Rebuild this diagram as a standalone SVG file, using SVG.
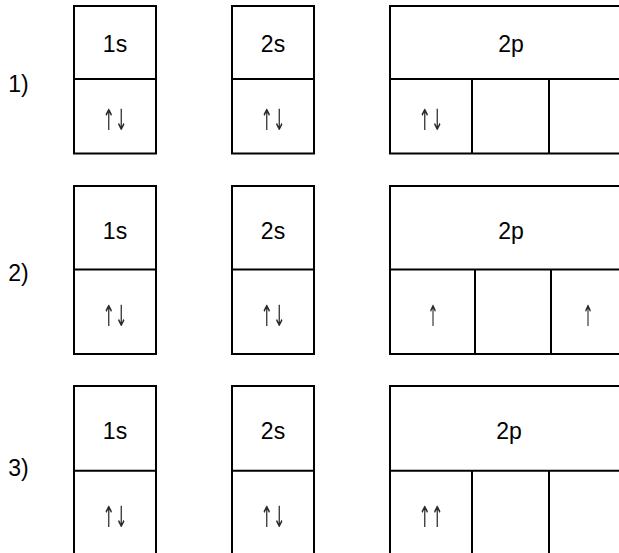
<svg xmlns="http://www.w3.org/2000/svg" width="619" height="553" viewBox="0 0 619 553">
<defs>
<filter id="gray" x="-20%" y="-20%" width="140%" height="140%"><feColorMatrix type="saturate" values="0"/></filter>
</defs>
<style>
.b{fill:none;stroke:#000;stroke-width:2}
.t{font-family:"Liberation Sans",Arial,sans-serif;font-size:23px;fill:#000;text-anchor:middle}
.a{font-family:"DejaVu Sans",sans-serif;font-size:29px;fill:#2a2a2a;text-anchor:middle}
.arr{filter:url(#gray)}
</style>
<rect width="619" height="553" fill="#fff"/>
<g id="row1">
  <text class="t" x="18.5" y="92">1)</text>
  <g id="r1-1s">
    <rect class="b" x="74" y="6" width="82" height="147.5"/>
    <line class="b" x1="74" y1="79" x2="156" y2="79"/>
    <text class="t" x="115" y="52">1s</text>
    <g class="arr"><text class="a" x="115" y="130" textLength="25" lengthAdjust="spacingAndGlyphs">↑↓</text></g>
  </g>
  <g id="r1-2s">
    <rect class="b" x="232" y="6" width="82" height="147.5"/>
    <line class="b" x1="232" y1="79" x2="314" y2="79"/>
    <text class="t" x="273" y="52">2s</text>
    <g class="arr"><text class="a" x="273" y="130" textLength="25" lengthAdjust="spacingAndGlyphs">↑↓</text></g>
  </g>
  <g id="r1-2p">
    <rect class="b" x="390" y="6" width="242" height="147.5"/>
    <line class="b" x1="390" y1="79" x2="632" y2="79"/>
    <line class="b" x1="472" y1="79" x2="472" y2="153.5"/>
    <line class="b" x1="549" y1="79" x2="549" y2="153.5"/>
    <text class="t" x="511" y="52">2p</text>
    <g class="arr"><text class="a" x="431" y="130" textLength="25" lengthAdjust="spacingAndGlyphs">↑↓</text></g>
  </g>
</g>
<g id="row2">
  <text class="t" x="18.5" y="281">2)</text>
  <g id="r2-1s">
    <rect class="b" x="74" y="186" width="82" height="168"/>
    <line class="b" x1="74" y1="269.5" x2="156" y2="269.5"/>
    <text class="t" x="115" y="239">1s</text>
    <g class="arr"><text class="a" x="115" y="326" textLength="25" lengthAdjust="spacingAndGlyphs">↑↓</text></g>
  </g>
  <g id="r2-2s">
    <rect class="b" x="232" y="186" width="82" height="168"/>
    <line class="b" x1="232" y1="269.5" x2="314" y2="269.5"/>
    <text class="t" x="273" y="239">2s</text>
    <g class="arr"><text class="a" x="273" y="326" textLength="25" lengthAdjust="spacingAndGlyphs">↑↓</text></g>
  </g>
  <g id="r2-2p">
    <rect class="b" x="390" y="186" width="242" height="168"/>
    <line class="b" x1="390" y1="269.5" x2="632" y2="269.5"/>
    <line class="b" x1="475" y1="269.5" x2="475" y2="354"/>
    <line class="b" x1="551" y1="269.5" x2="551" y2="354"/>
    <text class="t" x="511" y="239">2p</text>
    <g class="arr"><text class="a" x="433" y="326" textLength="11" lengthAdjust="spacingAndGlyphs">↑</text></g>
    <g class="arr"><text class="a" x="588" y="326" textLength="11" lengthAdjust="spacingAndGlyphs">↑</text></g>
  </g>
</g>
<g id="row3">
  <text class="t" x="18.5" y="476">3)</text>
  <g id="r3-1s">
    <rect class="b" x="74" y="386" width="82" height="180"/>
    <line class="b" x1="74" y1="470.7" x2="156" y2="470.7"/>
    <text class="t" x="115" y="439">1s</text>
    <g class="arr"><text class="a" x="115" y="527" textLength="25" lengthAdjust="spacingAndGlyphs">↑↓</text></g>
  </g>
  <g id="r3-2s">
    <rect class="b" x="232" y="386" width="82" height="180"/>
    <line class="b" x1="232" y1="470.7" x2="314" y2="470.7"/>
    <text class="t" x="273" y="439">2s</text>
    <g class="arr"><text class="a" x="273" y="527" textLength="25" lengthAdjust="spacingAndGlyphs">↑↓</text></g>
  </g>
  <g id="r3-2p">
    <rect class="b" x="390" y="386" width="242" height="180"/>
    <line class="b" x1="390" y1="470.7" x2="632" y2="470.7"/>
    <line class="b" x1="472" y1="470.7" x2="472" y2="566"/>
    <line class="b" x1="549" y1="470.7" x2="549" y2="566"/>
    <text class="t" x="509" y="439">2p</text>
    <g class="arr"><text class="a" x="431" y="527" textLength="25" lengthAdjust="spacingAndGlyphs">↑↑</text></g>
  </g>
</g>
<g id="connectors"/>
</svg>
